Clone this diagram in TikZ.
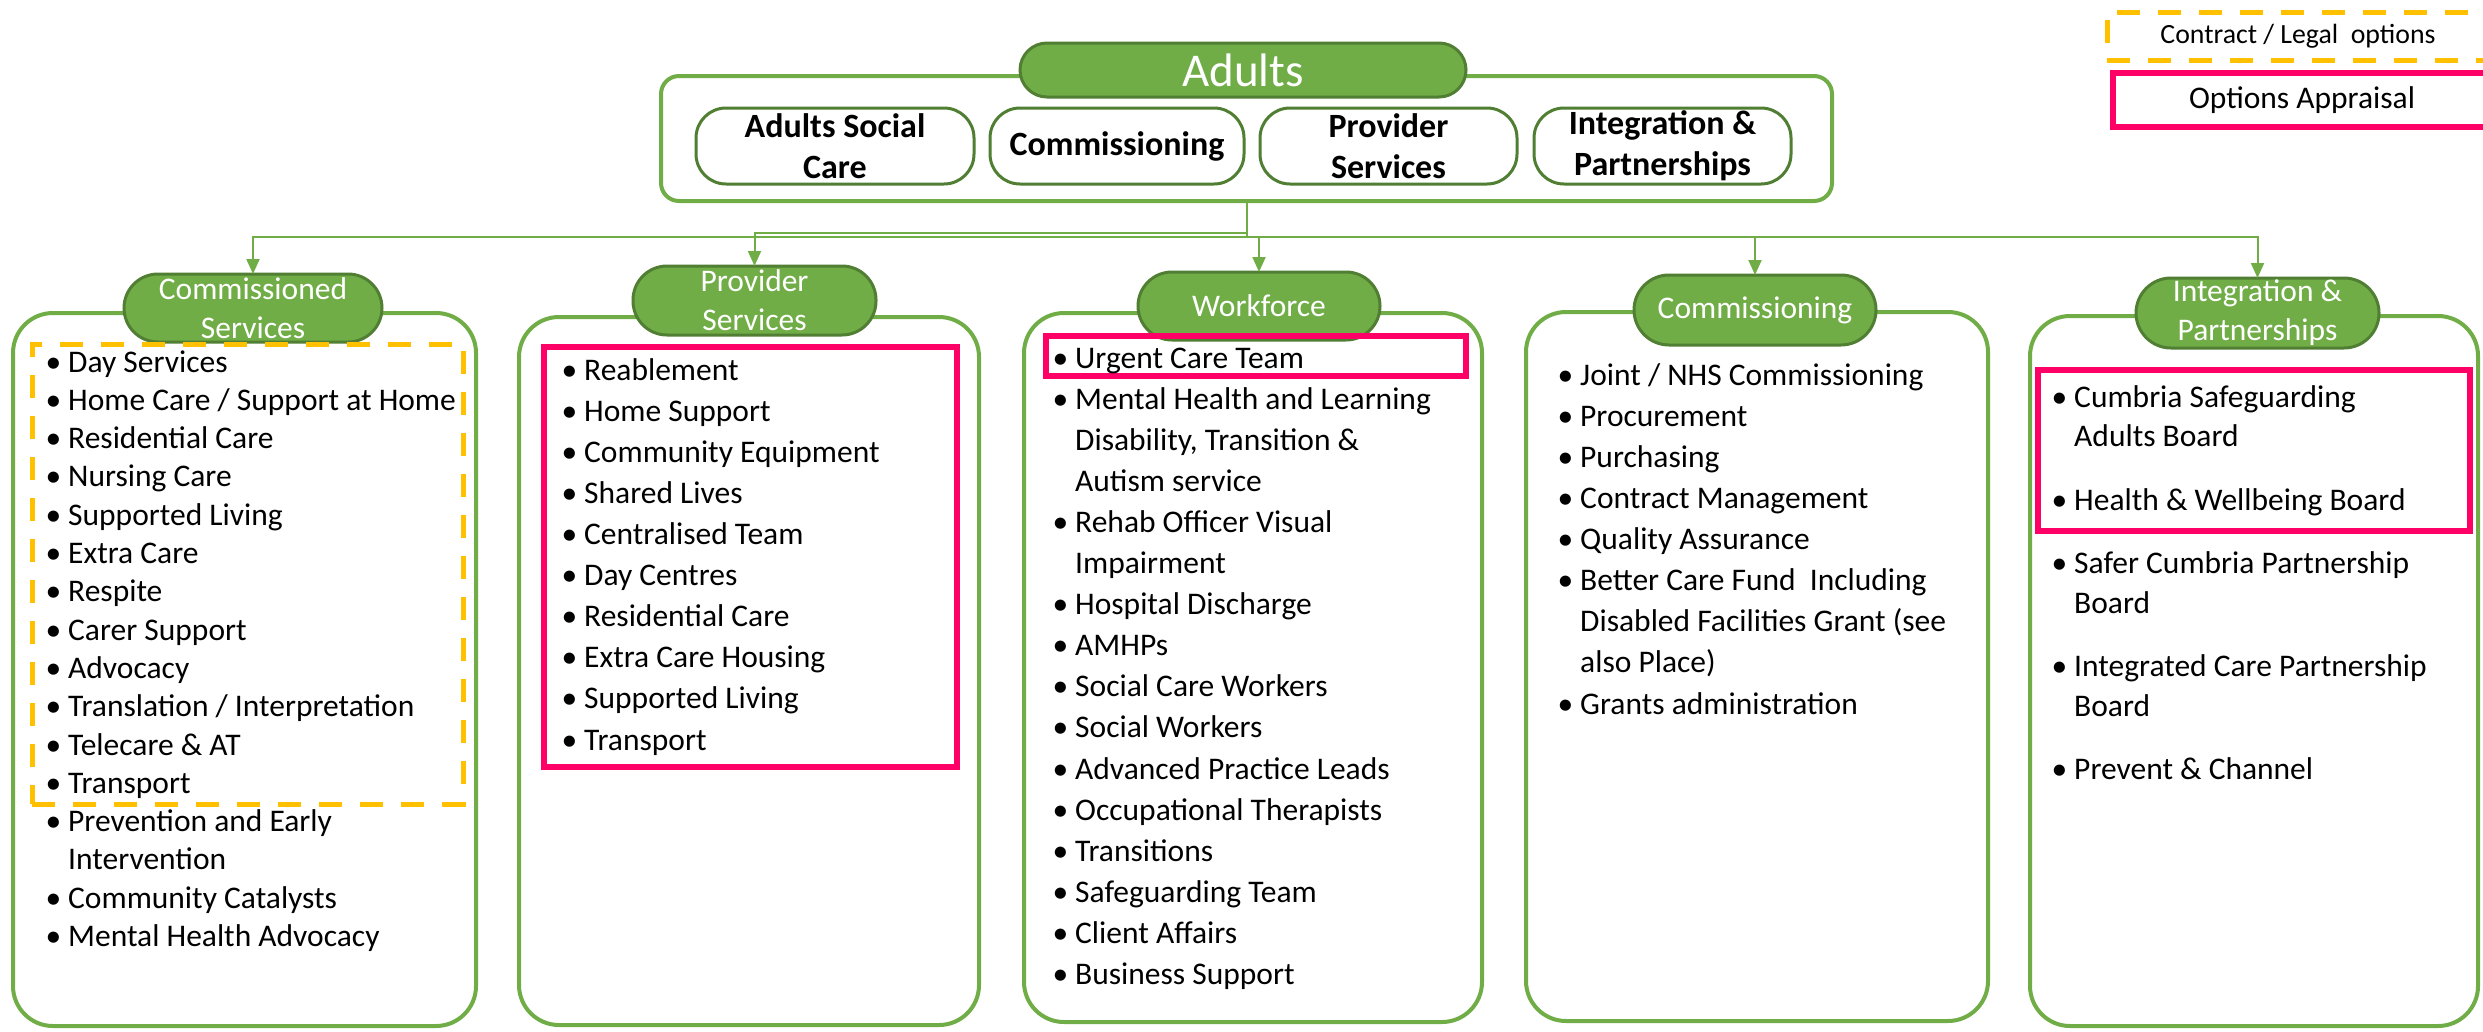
\documentclass[tikz,border=0pt]{standalone}
\usepackage{fontspec}
\setmainfont{Carlito}
\usetikzlibrary{arrows.meta}
\definecolor{gline}{HTML}{70AD47}
\definecolor{gdark}{HTML}{507E32}
\definecolor{pinkx}{HTML}{FF0066}
\definecolor{orangex}{HTML}{FFC000}
\newcommand\bul{\llap{\textbullet\hspace{7pt}}}
\begin{document}
\begin{tikzpicture}[x=1pt,y=-1pt,
  frame/.style={draw=gline,line width=4pt,rounded corners=40pt,inner sep=0pt,outer sep=0pt},
  pill/.style={draw=gdark,line width=3pt,fill=gline,text=white,align=center,inner sep=0pt,outer sep=0pt,
     font=\fontsize{31.5}{39}\selectfont},
  topbox/.style={draw=gdark,line width=3pt,fill=white,rounded corners=30pt,align=center,inner sep=0pt,outer sep=0pt,
     minimum height=76pt,font=\fontsize{34}{41}\selectfont\bfseries},
  pinkbox/.style={draw=pinkx,line width=5.5pt,inner sep=0pt,outer sep=0pt},
  orangebox/.style={draw=orangex,line width=5pt,dash pattern=on 23pt off 18pt,inner sep=0pt,outer sep=0pt},
  listA/.style={anchor=base west,align=left,inner sep=0pt,font=\fontsize{31.5}{38.3}\selectfont},
  listB/.style={anchor=base west,align=left,inner sep=0pt,font=\fontsize{31.5}{41.1}\selectfont},
  listC/.style={anchor=base west,align=left,inner sep=0pt,font=\fontsize{31.5}{39.5}\selectfont},
  conn/.style={draw=gline,line width=2pt,-{Triangle[length=15pt,width=13pt]}}]
\useasboundingbox (0,0) rectangle (2483,1031);
\clip (0,0) rectangle (2483,1031);

% top frame
\node[frame,rounded corners=18pt,minimum width=1171pt,minimum height=125pt] (af) at (1246.5,138.5) {};
\node[pill,rounded corners=27pt,minimum width=446pt,minimum height=54pt,font=\fontsize{47}{50}\selectfont] (ap) at (1243,70) {Adults};
\node[topbox,minimum width=278pt] (b1) at (835,146) {Adults Social\\Care};
\node[topbox,minimum width=254pt] (b2) at (1117,146) {Commissioning};
\node[topbox,minimum width=257pt] (b3) at (1388.5,146) {Provider\\Services};
\node[topbox,minimum width=257pt] (b4) at (1662.5,146) {Integration \&\\Partnerships};

% column frames
\node[frame,minimum width=463pt,minimum height=713pt] (f1) at (244.5,669.5) {};
\node[frame,minimum width=460pt,minimum height=708pt] (f2) at (749,671) {};
\node[frame,minimum width=458pt,minimum height=709pt] (f3) at (1253,667.5) {};
\node[frame,minimum width=462pt,minimum height=709pt] (f4) at (1757,666.5) {};
\node[frame,minimum width=448pt,minimum height=710pt] (f5) at (2254,671) {};

% column headers
\node[pill,rounded corners=34pt,minimum width=258pt,minimum height=68pt] (p1) at (253,308) {Commissioned\\Services};
\node[pill,rounded corners=34pt,minimum width=243pt,minimum height=69pt] (p2) at (754.5,300.5) {Provider\\Services};
\node[pill,rounded corners=34pt,minimum width=242pt,minimum height=68pt] (p3) at (1259,306) {Workforce};
\node[pill,rounded corners=35pt,minimum width=242pt,minimum height=70pt] (p4) at (1755,310) {Commissioning};
\node[pill,rounded corners=35pt,minimum width=243pt,minimum height=70pt] (p5) at (2257.5,313) {Integration \&\\Partnerships};

% connectors
\draw[conn] (af.south) -- ++(0,32) -| (p2.north);
\draw[conn] (af.south) -- ++(0,36) -| (p1.north);
\draw[conn] (af.south) -- ++(0,36) -| (p3.north);
\draw[conn] (af.south) -- ++(0,36) -| (p4.north);
\draw[conn] (af.south) -- ++(0,36) -| (p5.north);

% highlight boxes
\node[orangebox,minimum width=431pt,minimum height=460pt] (o1) at (247.5,574) {};
\node[pinkbox,minimum width=413pt,minimum height=420pt] (k2) at (750.5,557) {};
\node[pinkbox,minimum width=420pt,minimum height=40pt] (k3) at (1256,356) {};
\node[pinkbox,minimum width=432pt,minimum height=161pt] (k5) at (2254,450.5) {};

% lists (anchored at the baseline of their last line)
\node[listA] (l1) at (68,946.5) {\bul Day Services\\
\bul Home Care / Support at Home\\
\bul Residential Care\\
\bul Nursing Care\\
\bul Supported Living\\
\bul Extra Care\\
\bul Respite\\
\bul Carer Support\\
\bul Advocacy\\
\bul Translation / Interpretation\\
\bul Telecare \& AT\\
\bul Transport\\
\bul Prevention and Early\\
Intervention\\
\bul Community Catalysts\\
\bul Mental Health Advocacy};

\node[listB] (l2) at (584,750) {\bul Reablement\\
\bul Home Support\\
\bul Community Equipment\\
\bul Shared Lives\\
\bul Centralised Team\\
\bul Day Centres\\
\bul Residential Care\\
\bul Extra Care Housing\\
\bul Supported Living\\
\bul Transport};

\node[listB] (l3) at (1075,984.5) {\bul Urgent Care Team\\
\bul Mental Health and Learning\\
Disability, Transition \&\\
Autism service\\
\bul Rehab Officer Visual\\
Impairment\\
\bul Hospital Discharge\\
\bul AMHPs\\
\bul Social Care Workers\\
\bul Social Workers\\
\bul Advanced Practice Leads\\
\bul Occupational Therapists\\
\bul Transitions\\
\bul Safeguarding Team\\
\bul Client Affairs\\
\bul Business Support};

\node[listB] (l4) at (1580,714) {\bul Joint / NHS Commissioning\\
\bul Procurement\\
\bul Purchasing\\
\bul Contract Management\\
\bul Quality Assurance\\
\bul Better Care Fund\ \ Including\\
Disabled Facilities Grant (see\\
also Place)\\
\bul Grants administration};

\node[listC] (l5) at (2074,779.5) {\bul Cumbria Safeguarding\\
Adults Board\\[24pt]
\bul Health \& Wellbeing Board\\[24pt]
\bul Safer Cumbria Partnership\\
Board\\[24pt]
\bul Integrated Care Partnership\\
Board\\[24pt]
\bul Prevent \& Channel};

% legend
\node[orangebox,minimum width=382pt,minimum height=48pt,font=\fontsize{27.8}{30}\selectfont] (lg1) at (2298,36) {Contract / Legal\ \ options};
\node[pinkbox,minimum width=378pt,minimum height=54pt,font=\fontsize{31.5}{34}\selectfont] (lg2) at (2302,100) {Options Appraisal};
\end{tikzpicture}
\end{document}
